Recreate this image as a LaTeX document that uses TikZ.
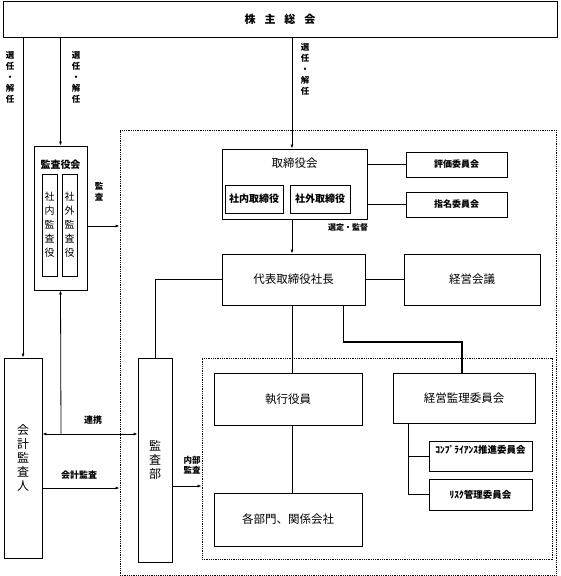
\documentclass[tikz,border=0pt]{standalone}
\usepackage{fontspec}
\setmainfont{Noto Sans CJK JP}
\usetikzlibrary{arrows.meta}
\begin{document}
\begin{tikzpicture}[x=1pt,y=-1pt,
  box/.style={draw,line width=0.8pt,inner sep=0pt,anchor=center,align=center},
  dotbox/.style={draw,line width=0.9pt,dash pattern=on 0.9pt off 0.9pt,inner sep=0pt},
  arr/.style={line width=0.8pt,-{Latex[length=4pt,width=3pt]}},
  dbl/.style={line width=0.8pt,{Latex[length=4pt,width=3pt]}-{Latex[length=4pt,width=3pt]}},
  ln/.style={line width=0.8pt},
  thk/.style={line width=1.6pt},
  lbl/.style={inner sep=0pt,align=center,font=\bfseries\fontsize{8.5}{11}\selectfont},
  big/.style={font=\fontsize{11.5}{12}\selectfont},
  vtext/.style={font=\fontsize{10}{14}\selectfont},
  small/.style={font=\bfseries\fontsize{9}{10}\selectfont},
]
\useasboundingbox (0,0) rectangle (560,576);
\fill[white] (0,0) rectangle (560,576);

% containers
\node[dotbox,minimum width=436,minimum height=445] (outer) at (338,352.5) {};
\node[dotbox,minimum width=350,minimum height=201] (inner) at (377,458.5) {};

% top
\node[box,minimum width=554,minimum height=36] (kabu) at (280,19.5)
  {\bfseries\fontsize{11}{11}\selectfont 株\hspace{9pt}主\hspace{9pt}総\hspace{9pt}会};

% audit board
\node[box,minimum width=53,minimum height=144] (kyk) at (60.5,218) {};
\node[inner sep=0pt,font=\bfseries\fontsize{10}{10}\selectfont] (kykt) at (60.5,165) {監査役会};
\node[box,vtext,minimum width=15,minimum height=102] (snk) at (49.5,225) {社\\内\\監\\査\\役};
\node[box,vtext,minimum width=15,minimum height=102] (sgk) at (69.5,225) {社\\外\\監\\査\\役};

% board of directors
\node[box,minimum width=145,minimum height=70] (tori) at (294.5,184) {};
\node[inner sep=0pt,big] (torit) at (294.5,163) {取締役会};
\node[box,font=\bfseries\fontsize{10}{10}\selectfont,minimum width=58,minimum height=28] (snt) at (254,199) {社内取締役};
\node[box,font=\bfseries\fontsize{10}{10}\selectfont,minimum width=60,minimum height=28] (sgt) at (320,199) {社外取締役};
\node[box,small,minimum width=101,minimum height=25] (hyoka) at (456.5,164.5) {評価委員会};
\node[box,small,minimum width=101,minimum height=25] (shimei) at (456.5,204.5) {指名委員会};

% president etc.
\node[box,big,minimum width=143,minimum height=51] (daihyo) at (293.5,279.5) {代表取締役社長};
\node[box,big,minimum width=136,minimum height=51] (kaigi) at (472,279.5) {経営会議};
\node[box,big,minimum width=148,minimum height=52] (shikko) at (288,399) {執行役員};
\node[box,big,minimum width=142,minimum height=50] (kanri) at (464,398) {経営監理委員会};
\node[box,big,minimum width=148,minimum height=53] (kakubu) at (288,519.5) {各部門、関係会社};
\node[box,minimum width=103,minimum height=30] (compl) at (480.5,456) {};
\node[inner sep=0pt,font=\bfseries\fontsize{9.5}{10}\selectfont] (complt) at (480.5,450) {ｺﾝﾌﾟﾗｲｱﾝｽ推進委員会};
\node[box,font=\bfseries\fontsize{9.5}{10}\selectfont,minimum width=103,minimum height=31] (risk) at (480.5,494.5) {ﾘｽｸ管理委員会};

% auditors
\node[box,font=\fontsize{12}{14}\selectfont,minimum width=38,minimum height=200] (kaikei) at (23,458) {会\\計\\監\\査\\人};
\node[box,font=\fontsize{12}{14}\selectfont,minimum width=34,minimum height=204] (kansabu) at (155,460) {監\\査\\部};

% labels
\node[lbl] (l1) at (10,77) {選\\任\\・\\解\\任};
\node[lbl] (l2) at (76,77) {選\\任\\・\\解\\任};
\node[lbl] (l3) at (305,69) {選\\任\\・\\解\\任};
\node[lbl] (l4) at (99,192) {監\\査};
\node[lbl,font=\bfseries\fontsize{8}{10}\selectfont] (l5) at (348,227) {選定・監督};
\node[lbl,font=\bfseries\fontsize{9}{10}\selectfont] (l6) at (93,420) {連携};
\node[lbl,font=\bfseries\fontsize{9}{10}\selectfont] (l7) at (79,475) {会計監査};
\node[lbl,font=\bfseries\fontsize{8.5}{10}\selectfont] (l8) at (192,465) {内部\\監査};

% coordinates
\coordinate (renj) at (61,434);
\coordinate (bend1) at (343,342);
\coordinate (bend2) at (462,342);

% connectors from top
\draw[arr] (kabu.south -| kaikei.north) -- (kaikei.north);
\draw[arr] (kabu.south -| kyk.north) -- (kyk.north);
\draw[arr] (kabu.south -| 292,0) -- (tori.north -| 292,0);

% audit board
\draw[arr] (kyk.east |- 0,226) -- (outer.west |- 0,226);
\draw[arr] (renj) -- (kyk.south);
\draw[dbl] (kaikei.east |- renj) -- (kansabu.west |- renj);
\draw[arr] (kaikei.east |- 0,488) -- (outer.west |- 0,488);
\draw[arr] (kansabu.east |- 0,486) -- (inner.west |- 0,486);

% board
\draw[thk] (tori.east |- hyoka.west) -- (hyoka.west);
\draw[thk] (tori.east |- shimei.west) -- (shimei.west);
\draw[arr] (tori.south -| 292,0) -- (daihyo.north -| 292,0);

% president
\draw[ln] (daihyo.east) -- (kaigi.west);
\draw[ln] (daihyo.west) -| (kansabu.north);
\draw[ln] (daihyo.south -| 292,0) -- (shikko.north -| 292,0);
\draw[ln] (daihyo.south -| bend1) -- (bend1);
\draw[thk] (bend1) -- (bend2) -- (kanri.north -| bend2);
\draw[ln] (shikko.south -| 292,0) -- (kakubu.north -| 292,0);

% committees
\draw[ln] (kanri.south -| 408,0) |- (compl.west);
\draw[ln] (kanri.south -| 408,0) -- (408,494.5);
\draw[thk] (408,494.5) -- (risk.west);
\end{tikzpicture}
\end{document}
